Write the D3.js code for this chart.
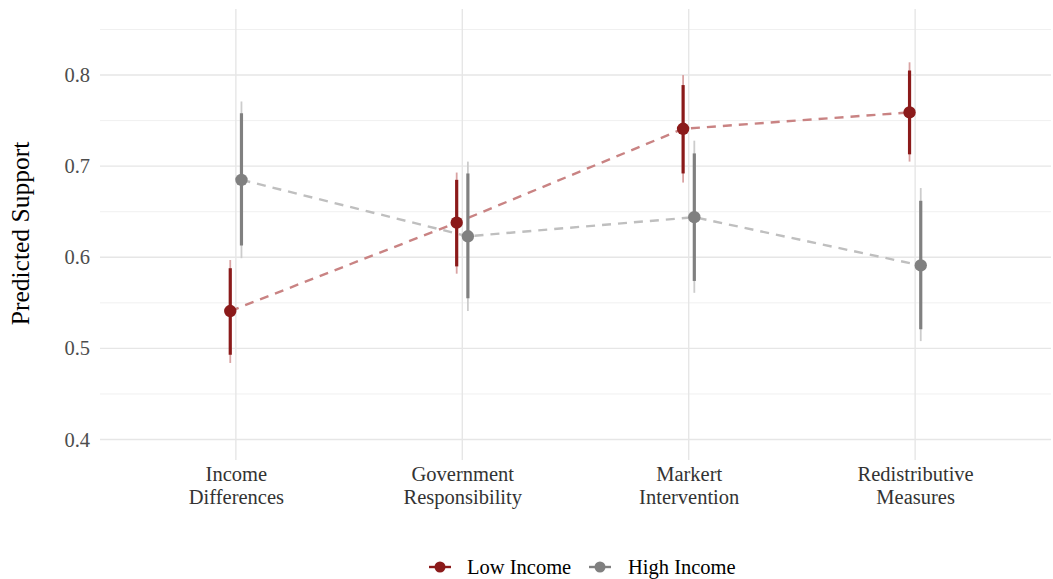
<!DOCTYPE html>
<html>
<head>
<meta charset="utf-8">
<script src="https://cdn.jsdelivr.net/npm/d3@7"></script>
<style>
  html, body { margin: 0; padding: 0; background: #fff; }
  svg { display: block; font-family: "Liberation Serif", "DejaVu Serif", serif; }
</style>
</head>
<body>
<svg id="chart" width="1053" height="579"></svg>
<script>
// ---- data ----
const categories = ["Income Differences", "Government Responsibility", "Markert Intervention", "Redistributive Measures"];
const categoryLines = [["Income", "Differences"], ["Government", "Responsibility"], ["Markert", "Intervention"], ["Redistributive", "Measures"]];
const groups = ["Low Income", "High Income"];

const lowEstimate = [0.541, 0.638, 0.741, 0.759];
const lowInner    = [[0.493, 0.588], [0.590, 0.685], [0.692, 0.789], [0.713, 0.805]];
const lowOuter    = [[0.484, 0.597], [0.582, 0.693], [0.682, 0.800], [0.705, 0.814]];

const highEstimate = [0.685, 0.623, 0.644, 0.591];
const highInner    = [[0.613, 0.758], [0.555, 0.692], [0.574, 0.714], [0.521, 0.662]];
const highOuter    = [[0.599, 0.771], [0.541, 0.705], [0.561, 0.728], [0.508, 0.676]];

const yTicks = [0.4, 0.5, 0.6, 0.7, 0.8];
const yMinorTicks = [0.45, 0.55, 0.65, 0.75, 0.85];

// ---- layout ----
const svg = d3.select("#chart");
const panel = { left: 100, right: 1051, top: 9, bottom: 460 };
const colors = { "Low Income": "#8b1a1a", "High Income": "#808080" };
const lineColors = { "Low Income": "#c98383", "High Income": "#bfbfbf" };
const outerColors = { "Low Income": "#d9a3a3", "High Income": "#cccccc" };
const textSize = 20.5;

const x = d3.scalePoint().domain(categories).range([panel.left, panel.right]).padding(0.6);
const y = d3.scaleLinear().domain([0.3775, 0.8725]).range([panel.bottom, panel.top]);
const dodge = d3.scalePoint().domain(groups).range([-5.6, 5.6]);

const series = [
  { name: "Low Income", est: lowEstimate, inner: lowInner, outer: lowOuter },
  { name: "High Income", est: highEstimate, inner: highInner, outer: highOuter }
];

// grid
const grid = svg.append("g");
grid.selectAll("line.minor").data(yMinorTicks).join("line")
  .attr("x1", panel.left).attr("x2", panel.right)
  .attr("y1", d => y(d)).attr("y2", d => y(d))
  .attr("stroke", "#f0f0f0").attr("stroke-width", 1);
grid.selectAll("line.major").data(yTicks).join("line")
  .attr("x1", panel.left).attr("x2", panel.right)
  .attr("y1", d => y(d)).attr("y2", d => y(d))
  .attr("stroke", "#e6e6e6").attr("stroke-width", 1.4);
grid.selectAll("line.vmajor").data(categories).join("line")
  .attr("x1", d => x(d)).attr("x2", d => x(d))
  .attr("y1", panel.top).attr("y2", panel.bottom)
  .attr("stroke", "#e6e6e6").attr("stroke-width", 1.4);

// y axis
const yAxis = d3.axisLeft(y).tickValues(yTicks).tickFormat(d3.format(".1f")).tickSize(0).tickPadding(10);
const gy = svg.append("g").attr("transform", `translate(${panel.left},0)`).call(yAxis);
gy.select(".domain").remove();
gy.selectAll("text").attr("font-size", textSize).attr("fill", "#4d4d4d")
  .attr("font-family", "Liberation Serif, serif");

// x axis
const xAxis = d3.axisBottom(x).tickSize(0).tickFormat("");
const gx = svg.append("g").attr("transform", `translate(0,${panel.bottom})`).call(xAxis);
gx.select(".domain").remove();
gx.selectAll(".tick").each(function(d, i) {
  const t = d3.select(this).append("text")
    .attr("text-anchor", "middle").attr("font-size", textSize).attr("fill", "#333")
    .attr("font-family", "Liberation Serif, serif");
  categoryLines[i].forEach((ln, j) => {
    t.append("tspan").attr("x", 0).attr("y", 21 + j * 23).text(ln);
  });
});

// y title
svg.append("text")
  .attr("transform", `translate(29,${(y(0.4) + y(0.85)) / 2 - 1}) rotate(-90)`)
  .attr("text-anchor", "middle").attr("font-size", 25.5).attr("fill", "#000")
  .text("Predicted Support");

// dashed lines
const line = d3.line();
series.forEach(s => {
  const pts = categories.map((c, i) => [x(c) + dodge(s.name), y(s.est[i])]);
  svg.append("path").attr("d", line(pts)).attr("fill", "none")
    .attr("stroke", lineColors[s.name]).attr("stroke-width", 2.4)
    .attr("stroke-dasharray", "9,7");
});

// error bars and points
series.forEach(s => {
  const g = svg.append("g");
  const cx = c => x(c) + dodge(s.name);
  g.selectAll("line.outer").data(categories).join("line")
    .attr("x1", cx).attr("x2", cx)
    .attr("y1", (c, i) => y(s.outer[i][0])).attr("y2", (c, i) => y(s.outer[i][1]))
    .attr("stroke", outerColors[s.name]).attr("stroke-width", 1.8);
  g.selectAll("line.inner").data(categories).join("line")
    .attr("x1", cx).attr("x2", cx)
    .attr("y1", (c, i) => y(s.inner[i][0])).attr("y2", (c, i) => y(s.inner[i][1]))
    .attr("stroke", colors[s.name]).attr("stroke-width", 3.2);
  g.selectAll("circle").data(categories).join("circle")
    .attr("cx", cx).attr("cy", (c, i) => y(s.est[i])).attr("r", 6.2)
    .attr("fill", colors[s.name]);
});

// legend
const legend = svg.append("g").attr("transform", "translate(0,567)");
const legendItems = [{ name: "Low Income", x0: 429, tx: 467 }, { name: "High Income", x0: 589, tx: 628 }];
legendItems.forEach(it => {
  legend.append("line").attr("x1", it.x0).attr("x2", it.x0 + 22).attr("y1", 0).attr("y2", 0)
    .attr("stroke", colors[it.name]).attr("stroke-width", 2.4);
  legend.append("circle").attr("cx", it.x0 + 11).attr("cy", 0).attr("r", 5.5).attr("fill", colors[it.name]);
  legend.append("text").attr("x", it.tx).attr("y", 7).attr("font-size", textSize).attr("fill", "#000")
    .text(it.name);
});
</script>
</body>
</html>
